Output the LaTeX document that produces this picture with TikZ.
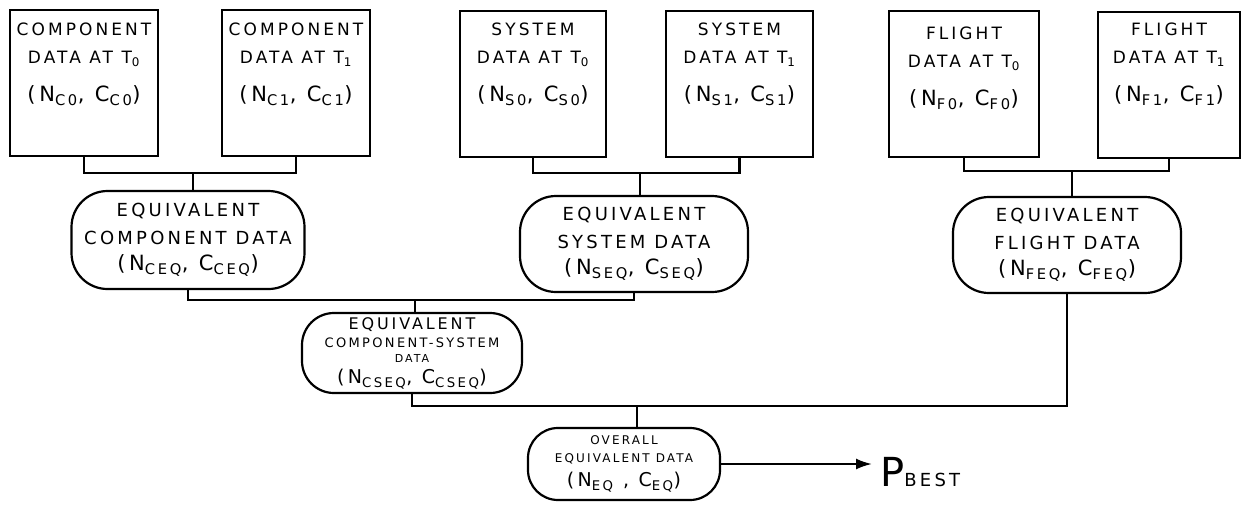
\documentclass[tikz,border=0pt]{standalone}
\usepackage{fontspec}
\newfontfamily\hand{DejaVu Sans}[LetterSpace=18]
\usetikzlibrary{arrows.meta}
\newcommand\sbs[1]{\textsubscript{#1}}
\newcommand\bigln[1]{{\fontsize{21}{24}\selectfont #1}}
\tikzset{
  databox/.style={draw, line width=2.2pt, minimum width=#1, minimum height=146pt, inner sep=0pt},
  boxtext/.style={align=center, inner sep=0pt, font=\hand\fontsize{17}{28}\selectfont},
  eqnode/.style={draw, line width=2.2pt, rounded corners=36pt, align=center, inner sep=0pt,
    font=\hand\fontsize{18}{28}\selectfont},
  conn/.style={line width=2.2pt},
}
\begin{document}
\begin{tikzpicture}[x=1pt,y=-1pt]
\useasboundingbox (0,0) rectangle (1242,506);
% top boxes
\node[databox=148pt] (b1) at (84,83) {};
\node[databox=148pt] (b2) at (296,83) {};
\node[databox=146pt] (b3) at (533,84) {};
\node[databox=147pt] (b4) at (739.5,84) {};
\node[databox=150pt] (b5) at (964,84) {};
\node[databox=142pt] (b6) at (1169,85) {};
\node[boxtext] (t1) at (84,64) {COMPONENT\\DATA AT T\sbs{0}\\[10pt]\bigln{(N\sbs{C0}, C\sbs{C0})}};
\node[boxtext] (t2) at (296,64) {COMPONENT\\DATA AT T\sbs{1}\\[10pt]\bigln{(N\sbs{C1}, C\sbs{C1})}};
\node[boxtext] (t3) at (533,64) {SYSTEM\\DATA AT T\sbs{0}\\[10pt]\bigln{(N\sbs{S0}, C\sbs{S0})}};
\node[boxtext] (t4) at (739.5,64) {SYSTEM\\DATA AT T\sbs{1}\\[10pt]\bigln{(N\sbs{S1}, C\sbs{S1})}};
\node[boxtext] (t5) at (964,68) {FLIGHT\\DATA AT T\sbs{0}\\[10pt]\bigln{(N\sbs{F0}, C\sbs{F0})}};
\node[boxtext] (t6) at (1169,64) {FLIGHT\\DATA AT T\sbs{1}\\[10pt]\bigln{(N\sbs{F1}, C\sbs{F1})}};
% junctions
\coordinate (j1) at (193,173);
\coordinate (j2) at (640,173);
\coordinate (j3) at (1072,171);
\coordinate (j4) at (415,300);
\coordinate (j5) at (637,406);
% equivalent nodes
\node[eqnode, minimum width=233pt, minimum height=98pt] (eqc) at (188,240)
  {EQUIVALENT\\COMPONENT DATA\\[-2pt]\bigln{(N\sbs{CEQ}, C\sbs{CEQ})}};
\node[eqnode, minimum width=228pt, minimum height=96pt] (eqs) at (634,244)
  {EQUIVALENT\\SYSTEM DATA\\[-2pt]\bigln{(N\sbs{SEQ}, C\sbs{SEQ})}};
\node[eqnode, minimum width=228pt, minimum height=96pt] (eqf) at (1067,245)
  {EQUIVALENT\\FLIGHT DATA\\[-2pt]\bigln{(N\sbs{FEQ}, C\sbs{FEQ})}};
\node[eqnode, minimum width=220pt, minimum height=80pt, rounded corners=32pt] (eqcs) at (412,353)
  {{\fontsize{16}{18}\selectfont EQUIVALENT}\\[-10pt]{\fontsize{13}{14}\selectfont COMPONENT-SYSTEM}\\[-13pt]{\fontsize{11}{14}\selectfont DATA}\\[-7pt]{\fontsize{19}{22}\selectfont (N\sbs{CSEQ}, C\sbs{CSEQ})}};
\node[eqnode, minimum width=192pt, minimum height=72pt, rounded corners=30pt] (ov) at (624,464)
  {{\fontsize{12}{14}\selectfont OVERALL}\\[-10pt]{\fontsize{12}{14}\selectfont EQUIVALENT DATA}\\[-4pt]{\fontsize{19}{22}\selectfont (N\sbs{EQ} , C\sbs{EQ})}};
\node[anchor=west, inner sep=0pt, font=\hand] (pb) at (880,472)
  {{\fontsize{40}{40}\selectfont P}{\fontsize{18}{18}\selectfont BEST}};
% connectors
\draw[conn] (b1.south) |- (j1) -| (b2.south);
\draw[conn] (j1) -- (j1 |- eqc.north);
\draw[conn] (b3.south) |- (j2) -| (b4.south);
\draw[conn] (j2) -- (j2 |- eqs.north);
\draw[conn] (b5.south) |- (j3) -| (b6.south);
\draw[conn] (j3) -- (j3 |- eqf.north);
\draw[conn] (eqc.south) |- (j4) -| (eqs.south);
\draw[conn] (j4) -- (j4 |- eqcs.north);
\draw[conn] (eqcs.south) |- (j5) -| (eqf.south);
\draw[conn] (j5) -- (j5 |- ov.north);
\draw[conn, -{Latex[length=16pt,width=11pt]}] (ov.east) -- ([xshift=-8pt]pb.west |- ov.east);
\end{tikzpicture}
\end{document}
